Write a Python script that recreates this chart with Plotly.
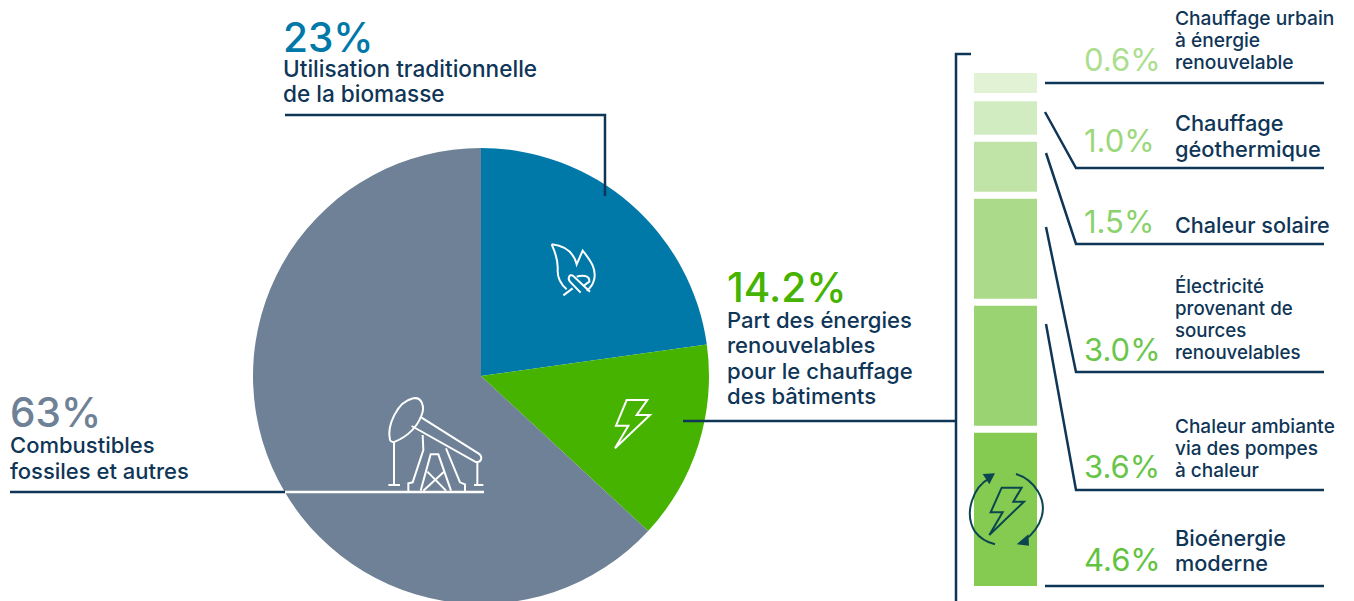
import re
import plotly.graph_objects as go

# ---------- data ----------
pie_labels = ["Utilisation traditionnelle de la biomasse", "Part des énergies renouvelables pour le chauffage des bâtiments", "Combustibles fossiles et autres"]
pie_values = [22.8, 14.1, 63.1]
pie_colors = ["#0079A8", "#46B300", "#6E8196"]

bar_names = ["Chauffage urbain à énergie renouvelable", "Chauffage géothermique", "Chaleur solaire",
             "Électricité provenant de sources renouvelables", "Chaleur ambiante via des pompes à chaleur", "Bioénergie moderne"]
bar_values = [0.6, 1.0, 1.5, 3.0, 3.6, 4.6]
bar_colors = ["#E1F2D5", "#D1ECC0", "#C0E4A7", "#ABDA8A", "#99D372", "#85CB52"]
bar_gaps = [0.25, 0.21, 0.21, 0.21, 0.21, 0]

pct_labels = ["0.6%", "1.0%", "1.5%", "3.0%", "3.6%", "4.6%"]
pct_colors = ["#ABDE8E", "#9BD87C", "#8AD26C", "#6CC64C", "#68C548", "#62C33F"]
pct_y = [60, 141, 221, 349, 466, 559]

NAVY = "#0F3557"
FONT = "Inter"
W, H = 1354, 612

big_labels = [("23%", 281, 37, 40.5, "#0079A8"), ("14.2%", 725, 287, 40.5, "#46B300"), ("63%", 8, 412, 40.5, "#6E8196")]
# (lines, x, y of block centre, text size, line spacing)
text_blocks = [
    (["Utilisation traditionnelle", "de la biomasse"], 281, 81.5, 22.6, 25),
    (["Part des énergies", "renouvelables", "pour le chauffage", "des bâtiments"], 725, 358, 22.1, 25.3),
    (["Combustibles", "fossiles et autres"], 8, 458, 22, 26),
    (["Chauffage urbain", "à énergie", "renouvelable"], 1173, 40, 19.2, 22),
    (["Chauffage", "géothermique"], 1173, 136, 21.8, 26),
    (["Chaleur solaire"], 1173, 225, 21.6, 25),
    (["Électricité", "provenant de", "sources", "renouvelables"], 1173, 319, 18.7, 22),
    (["Chaleur ambiante", "via des pompes", "à chaleur"], 1173, 449, 19, 22),
    (["Bioénergie", "moderne"], 1173, 550.5, 21.7, 25),
]

leaders = [
    [(285, 115), (605, 115), (605, 196)],
    [(10, 492), (285, 492)],
    [(971, 54), (956, 54), (956, 612)],
    [(683, 421), (956, 421)],
    [(1045, 83), (1324, 83)],
    [(1045, 112), (1076, 168), (1324, 168)],
    [(1046, 153), (1076, 244), (1324, 244)],
    [(1046, 227), (1076, 372), (1324, 372)],
    [(1046, 324), (1076, 490), (1324, 490)],
    [(1045, 586), (1324, 586)],
]


def px(x):
    return x / W


def py(y):
    return 1 - y / H


def tr(path, ox, oy, s=1 / 3):
    """Turn a path written in image pixels into paper coordinates."""
    def rep(m):
        x = float(m.group(1)); y = float(m.group(2))
        return f"{px(ox + x * s):.5f},{py(oy + y * s):.5f}"
    return re.sub(r"(-?\d+\.?\d*)[ ,]+(-?\d+\.?\d*)", rep, path)


# zoomed-in icon drawings
flame = ["M545 73 C590 78 612 100 620 133 L638 92 C665 125 680 150 672 180 C668 195 660 205 650 212",
         "M545 73 C555 95 565 120 563 150 C562 175 575 195 590 208",
         "M580 226 L608 205",
         "M660 215 L610 168 C598 160 592 175 600 185 L632 218",
         "M620 170 C635 165 660 165 658 185 L640 198"]
bolt_w = ["M770 540 L832 540 L800 585 L840 585 L735 685 L775 617 L738 617 Z"]
pump = ["M60 660 C50 620 80 545 130 535 C155 530 165 560 155 585 C140 625 110 650 75 665 C66 668 62 665 60 660 Z",
        "M150 590 L325 700 C340 710 335 730 315 725 L125 618",
        "M72 665 L72 795", "M55 795 L90 795", "M322 727 L322 795", "M312 795 L340 795",
        "M158 645 L160 690 L128 787 L115 790 L115 815",
        "M228 685 L270 787 L285 793 L285 815",
        "M152 812 L182 703 L205 703 L243 812",
        "M160 812 L222 755", "M172 755 L228 812"]
bolt_n = ["M155 563 L215 563 L190 605 L222 605 L118 705 L158 637 L122 637 Z"]
cycle = ["M118 535 C70 560 40 640 75 695 C90 715 110 727 135 733",
         "M198 522 C255 540 290 600 275 650 C265 685 245 705 222 722"]
heads = ["M135 520 L98 522 L118 553 Z", "M200 733 L237 737 L235 703 Z"]

# ---------- figure ----------
fig = go.Figure()

fig.add_trace(go.Pie(
    labels=pie_labels, values=pie_values, sort=False, direction="clockwise", rotation=0,
    marker=dict(colors=pie_colors, line=dict(width=0)), textinfo="none", showlegend=False,
    domain=dict(x=[px(253), px(709)], y=[py(604), py(148)]),
))

# stacked column, top segment first
total = sum(bar_values) + sum(bar_gaps)
base = total
for name, v, c, g in zip(bar_names, bar_values, bar_colors, bar_gaps):
    base -= v
    fig.add_trace(go.Bar(x=[0], y=[v], base=[base], name=name, width=1, marker=dict(color=c, line=dict(width=0)),
                         showlegend=False, xaxis="x", yaxis="y"))
    base -= g

shapes = []
for pts in leaders:
    d = "M" + " L".join(f"{px(x):.5f},{py(y):.5f}" for x, y in pts)
    shapes.append(dict(type="path", xref="paper", yref="paper", path=d, line=dict(color=NAVY, width=2.5)))
shapes.append(dict(type="path", xref="paper", yref="paper",
                   path=f"M{px(285):.5f},{py(492):.5f} L{px(484):.5f},{py(492):.5f}", line=dict(color="white", width=2.5)))


def icon(paths, ox, oy, color, width, fill=None):
    for p in paths:
        shapes.append(dict(type="path", xref="paper", yref="paper", path=tr(p, ox, oy),
                           line=dict(color=color, width=width if fill is None else 0),
                           fillcolor=fill if fill else "rgba(0,0,0,0)"))


icon(flame, 370, 220, "white", 2)
icon(bolt_w, 370, 220, "white", 2)
icon(pump, 370, 220, "white", 2)
icon(bolt_n, 950, 300, "#0B4650", 2)
icon(cycle, 950, 300, "#0B4650", 2)
icon(heads, 950, 300, "#0B4650", 0, fill="#0B4650")

ann = []
for t, x, y, s, c in big_labels:
    ann.append(dict(text=t, x=px(x), y=py(y), xref="paper", yref="paper", xanchor="left", yanchor="middle",
                    showarrow=False, font=dict(family=FONT, size=s, color=c, weight=500)))
for lines, x, y, s, sp in text_blocks:
    body = "<br>".join(f'<span style="font-size:{s}px">{t}</span>' for t in lines)
    ann.append(dict(text=body, x=px(x), y=py(y), xref="paper", yref="paper", xanchor="left", yanchor="middle",
                    align="left", showarrow=False, font=dict(family=FONT, size=sp / 1.3, color=NAVY, weight=500)))
for t, y, c in zip(pct_labels, pct_y, pct_colors):
    ann.append(dict(text=t, x=px(1082), y=py(y), xref="paper", yref="paper", xanchor="left", yanchor="middle",
                    showarrow=False, font=dict(family=FONT, size=31, color=c)))

fig.update_layout(
    width=W, height=H, margin=dict(l=0, r=0, t=0, b=0, pad=0), autosize=False,
    paper_bgcolor="white", plot_bgcolor="rgba(0,0,0,0)", barmode="overlay",
    xaxis=dict(domain=[px(974), px(1037)], range=[-0.5, 0.5], visible=False, fixedrange=True),
    yaxis=dict(domain=[py(586), py(73)], range=[0, total], visible=False, fixedrange=True),
    shapes=shapes, annotations=ann, showlegend=False,
)

fig.write_html("out.html", config=dict(displayModeBar=False),
               post_script="document.documentElement.style.overflow='hidden';document.body.style.margin='0';document.body.style.overflow='hidden';")
